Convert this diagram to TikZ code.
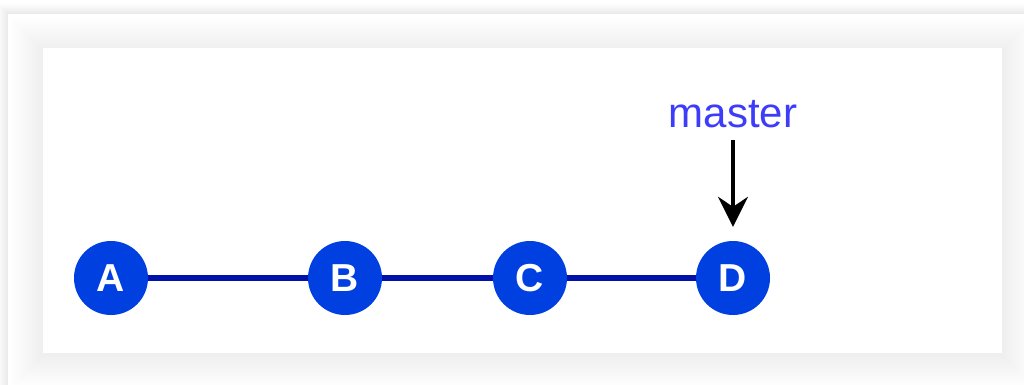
\documentclass[tikz,border=0pt]{standalone}
\usepackage{fontspec}
\setmainfont{Liberation Sans}
\usetikzlibrary{arrows.meta}
\definecolor{nodeblue}{RGB}{0,64,224}
\definecolor{edgeblue}{RGB}{0,18,170}
\definecolor{labelblue}{RGB}{60,60,250}
\tikzset{
  commit/.style={circle, fill=nodeblue, minimum size=74pt, inner sep=0pt,
    text=white, font=\fontsize{39}{42}\selectfont\bfseries},
  link/.style={draw=edgeblue, line width=5.5pt},
  pointer/.style={draw=black, line width=3.2pt, -{Stealth[length=30pt,width=30pt,inset=10pt]}},
  branch/.style={text=labelblue, font=\fontsize{42}{46}\selectfont, inner sep=0pt, anchor=base},
  shadowring/.style={fill=black, fill opacity=#1},
}
\begin{document}
\begin{tikzpicture}[x=1pt,y=-1pt]
\useasboundingbox (0,0) rectangle (1024,385);
\fill[white] (0,0) rectangle (1024,385);
% outer panel shadow
\foreach \i in {10,...,1}{
  \fill[shadowring=0.008] (8-\i,14-\i) rectangle (1060,420);
}
\fill[white] (8,14) rectangle (1060,420);
% inner card shadow
\foreach \i in {16,...,1}{
  \fill[shadowring=0.0035] (43-2*\i,48-2*\i+2) rectangle (1002+2*\i,353+2*\i+2);
}
\fill[white] (43,48) rectangle (1002,353);

\node[commit] (A) at (111,278) {A};
\node[commit] (B) at (345,278) {B};
\node[commit] (C) at (530,278) {C};
\node[commit] (D) at (733,278) {D};
\path[link] (A) -- (B);
\path[link] (B) -- (C);
\path[link] (C) -- (D);

\node[branch] (master) at (733,127) {master};
\draw[pointer] ([yshift=-12pt]master.south) -- ([yshift=14pt]D.north);
\end{tikzpicture}
\end{document}
